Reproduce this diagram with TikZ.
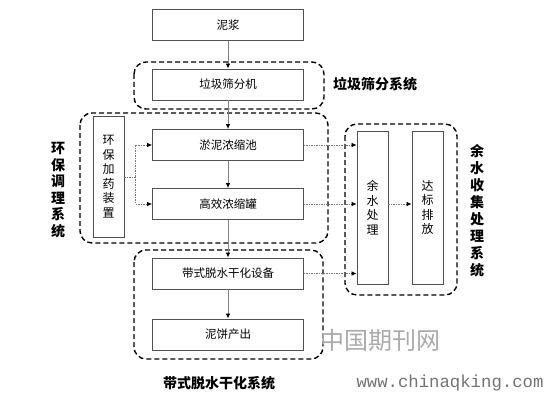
\documentclass[tikz,border=0pt]{standalone}
\usepackage{xcolor}
\usepackage{fontspec}
\usepackage{tikz}
\usetikzlibrary{arrows.meta, positioning, calc}
\newfontfamily\cjk{Noto Sans CJK SC}
\newfontfamily\wmmono{Liberation Mono}
\definecolor{boxgray}{RGB}{80,80,80}
\definecolor{linegray}{RGB}{130,130,130}
\definecolor{dotgray}{RGB}{120,120,120}
\definecolor{wmgray}{RGB}{170,170,170}
\tikzset{
  block/.style={rectangle, draw=boxgray, fill=white,
    minimum width=151pt, minimum height=31pt,
    font=\cjk\fontsize{11.5}{13}\selectfont, line width=0.9pt},
  tallblock/.style={rectangle, draw=boxgray, fill=white,
    minimum width=31pt, align=center, inner sep=0pt,
    font=\cjk\fontsize{12}{14.5}\selectfont, line width=0.9pt},
  group/.style={draw=black, line width=1.4pt, dash pattern=on 5pt off 3pt,
    rounded corners=12pt},
  grouplabel/.style={font=\cjk\bfseries\fontsize{14}{16.5}\selectfont, align=center},
  arrow/.style={-{Latex[length=5pt, width=4.5pt, color=black]}, line width=0.8pt, color=linegray},
  dotarrow/.style={-{Latex[length=5pt, width=4.5pt, color=black]}, line width=0.7pt,
    color=dotgray, dash pattern=on 1.5pt off 1pt}
}

\begin{document}
\begin{tikzpicture}[x=1pt, y=-1pt]
  \useasboundingbox (0,0) rectangle (546,398);

  % Dashed system groups
  \draw[group] (134,62) rectangle (324,109);
  \draw[group] (80,113) rectangle (328,243);
  \draw[group] (345,124) rectangle (457,295);
  \draw[group] (134,250) rectangle (323,359);

  % Main process column
  \node[block] (slurry) at (228,25) {泥浆};
  \node[block] (screen) at (228,84.5) {垃圾筛分机};
  \node[block] (pond) at (228,145) {淤泥浓缩池};
  \node[block] (tank) at (228,204) {高效浓缩罐};
  \node[block] (belt) at (228,273.5) {带式脱水干化设备};
  \node[block] (cake) at (228,334.5) {泥饼产出};

  % Side units
  \node[tallblock, minimum height=121pt] (dosing) at (108.5,176.5) {环\\保\\加\\药\\装\\置};
  \node[tallblock, minimum height=153pt] (water) at (372.5,207.5) {余\\水\\处\\理};
  \node[tallblock, minimum height=153pt] (outlet) at (427.5,207.5) {达\\标\\排\\放};

  % System labels
  \node[grouplabel] (screenlbl) at (375,84) {垃圾筛分系统};
  \node[grouplabel] (condlbl) at (58,190) {环\\保\\调\\理\\系\\统};
  \node[grouplabel, font=\cjk\bfseries\fontsize{14}{17}\selectfont] (waterlbl) at (477,211) {余\\水\\收\\集\\处\\理\\系\\统};
  \node[grouplabel] (beltlbl) at (219,383) {带式脱水干化系统};

  % Watermark
  \node[font=\cjk\fontsize{24}{26}\selectfont, text=wmgray] (wmcn) at (380,340) {中国期刊网};
  \node[font=\wmmono\fontsize{17.3}{19}\selectfont, text=black!55] (wmurl) at (450,383) {www.chinaqking.com};

  % Main flow
  \draw[arrow] (slurry) -- (screen);
  \draw[arrow] (screen) -- (pond);
  \draw[arrow] (pond) -- (tank);
  \draw[arrow] (tank) -- (belt);
  \draw[arrow] (belt) -- (cake);

  % Dosing lines
  \coordinate (split) at (135,177);
  \draw[dotgray, line width=0.7pt, dash pattern=on 1.5pt off 1pt] (dosing.east |- split) -- (split);
  \draw[dotarrow] (split) |- (pond.west);
  \draw[dotarrow] (split) |- (tank.west);

  % Water lines
  \draw[dotarrow] (pond.east) -- (pond.east -| water.west);
  \draw[dotarrow] (tank.east) -- (tank.east -| water.west);
  \draw[dotarrow] (belt.east) -- (belt.east -| water.west);
  \draw[dotarrow] (water.east |- tank.east) -- (outlet.west |- tank.east);
\end{tikzpicture}
\end{document}
